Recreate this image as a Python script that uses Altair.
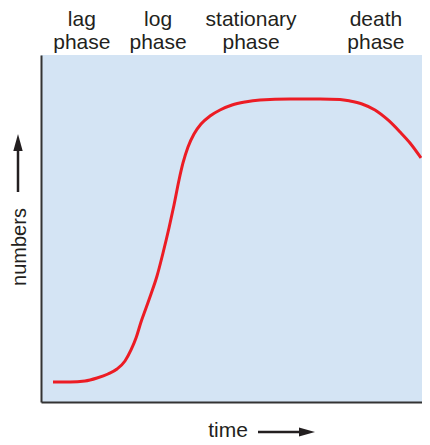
import altair as alt
import pandas as pd

# growth curve (time axis 0-100 across the reference plot width, numbers 0-100)
time_vals = [3.08, 7.46, 11.31, 14.40, 17.22, 19.54, 21.59, 23.14, 24.42, 25.71, 27.00, 28.28,
             29.82, 31.36, 32.90, 34.19, 35.48, 36.50, 37.79, 39.33, 41.13, 43.44, 46.02, 49.10,
             52.44, 56.30, 64.01, 71.72, 76.86, 79.43, 82.52, 85.86, 89.20, 92.29, 94.86, 97.69]
number_vals = [5.76, 5.76, 6.05, 6.92, 8.07, 9.51, 11.82, 14.99, 18.44, 23.05, 27.09, 31.12,
               36.31, 42.94, 50.14, 56.77, 63.98, 68.88, 73.49, 77.23, 80.12, 82.42, 84.15, 85.59,
               86.46, 87.03, 87.32, 87.32, 87.18, 86.74, 85.88, 84.15, 81.27, 77.81, 74.64, 70.32]

phase_labels = ["lag\nphase", "log\nphase", "stationary\nphase", "death\nphase"]
phase_pos = [10.5, 30.1, 54.0, 86.1]

FONT = "Liberation Sans"
TXT = "#231f20"

curve_df = pd.DataFrame({"time": time_vals, "numbers": number_vals})
phase_df = pd.DataFrame({"label": phase_labels, "pos": phase_pos})
one = pd.DataFrame({"a": [0]})

xs = alt.Scale(domain=[0, 97.94])
ys = alt.Scale(domain=[0, 100])

curve = alt.Chart(curve_df).mark_line(color="#ec1c24", strokeWidth=3, interpolate="monotone").encode(
    x=alt.X("time:Q", scale=xs, axis=alt.Axis(title=None, labels=False, ticks=False, grid=False,
                                               domainColor="#333333", domainWidth=2)),
    y=alt.Y("numbers:Q", scale=ys, axis=alt.Axis(title=None, labels=False, ticks=False, grid=False,
                                                  domainColor="#333333", domainWidth=2)),
)

phases = alt.Chart(phase_df).mark_text(
    font=FONT, fontSize=21, color=TXT, lineBreak="\n", lineHeight=23,
    align="center", baseline="alphabetic"
).encode(x=alt.X("pos:Q", scale=xs), y=alt.value(-29), text="label:N")

ylab = alt.Chart(one).mark_text(
    text="numbers", font=FONT, fontSize=20, color=TXT, angle=270,
    align="center", baseline="alphabetic"
).encode(x=alt.value(-15), y=alt.value(192))

xlab = alt.Chart(one).mark_text(
    text="time", font=FONT, fontSize=21, color=TXT, align="center", baseline="alphabetic"
).encode(x=alt.value(187), y=alt.value(382))

yshaft = alt.Chart(one).mark_rule(color=TXT, strokeWidth=2.5).encode(
    x=alt.value(-23), y=alt.value(93), y2=alt.value(137))
yhead = alt.Chart(one).mark_point(
    shape="M0,-1L0.55,1L-0.55,1Z", filled=True, size=289, color=TXT, opacity=1, strokeWidth=0
).encode(x=alt.value(-23), y=alt.value(87.5))

xshaft = alt.Chart(one).mark_rule(color=TXT, strokeWidth=2.5).encode(
    x=alt.value(217), x2=alt.value(262), y=alt.value(377))
xhead = alt.Chart(one).mark_point(
    shape="M1,0L-1,-0.55L-1,0.55Z", filled=True, size=256, color=TXT, opacity=1, strokeWidth=0
).encode(x=alt.value(266), y=alt.value(377))

chart = alt.layer(curve, phases, ylab, xlab, yshaft, yhead, xshaft, xhead).properties(
    width=381, height=347,
    autosize=alt.AutoSizeParams(type="none"),
    padding={"left": 33, "top": 47, "right": 0, "bottom": 43},
).configure(background="white").configure_view(fill="#d4e4f4", strokeWidth=0)

chart.save("out.html", embed_options={"renderer": "svg", "actions": False})
